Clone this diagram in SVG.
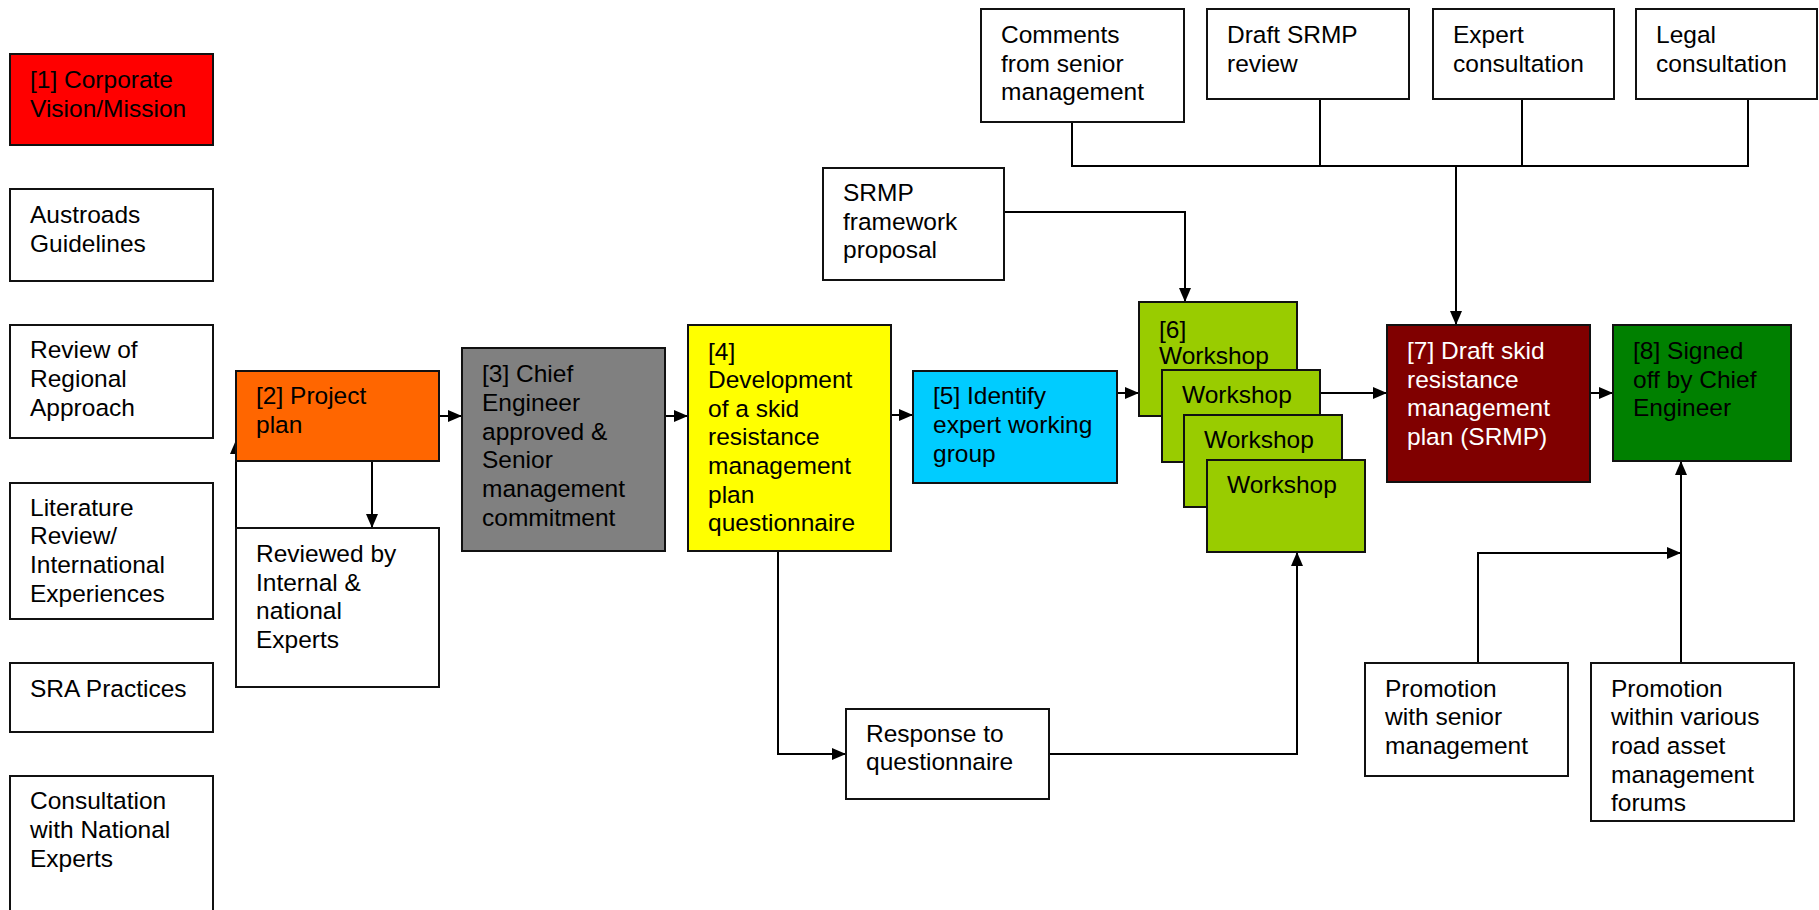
<svg xmlns="http://www.w3.org/2000/svg" width="1819" height="910" viewBox="0 0 1819 910">
<style>
  .box { stroke: #111; stroke-width: 2; }
  .w { fill: #ffffff; }
  text { font-family: "Liberation Sans", Arial, sans-serif; font-size: 24.5px; fill: #000; }
  .white { fill: #ffffff; }
  .conn { fill: none; stroke: #000; stroke-width: 2; }
</style>
<defs>
  <marker id="arr" viewBox="0 0 14 12" refX="14" refY="6" markerWidth="14" markerHeight="12" markerUnits="userSpaceOnUse" orient="auto">
    <path d="M0,0 L14,6 L0,12 Z" fill="#000"/>
  </marker>
</defs>
<rect width="1819" height="910" fill="#ffffff"/>

<g id="connectors">
  <line class="conn" x1="439" y1="416" x2="462" y2="416" marker-end="url(#arr)"/>
  <line class="conn" x1="665" y1="416" x2="688" y2="416" marker-end="url(#arr)"/>
  <line class="conn" x1="891" y1="415" x2="913" y2="415" marker-end="url(#arr)"/>
  <line class="conn" x1="1117" y1="393" x2="1139" y2="393" marker-end="url(#arr)"/>
  <line class="conn" x1="1320" y1="393" x2="1387" y2="393" marker-end="url(#arr)"/>
  <line class="conn" x1="1590" y1="393" x2="1613" y2="393" marker-end="url(#arr)"/>
  <line class="conn" x1="372" y1="461" x2="372" y2="528" marker-end="url(#arr)"/>
  <line class="conn" x1="236" y1="528" x2="236" y2="440" marker-end="url(#arr)"/>
  <polyline class="conn" points="778,551 778,754 846,754" marker-end="url(#arr)"/>
  <polyline class="conn" points="1049,754 1297,754 1297,552" marker-end="url(#arr)"/>
  <polyline class="conn" points="1004,212 1185,212 1185,302" marker-end="url(#arr)"/>
  <line class="conn" x1="1072" y1="122" x2="1072" y2="166"/>
  <line class="conn" x1="1320" y1="99" x2="1320" y2="166"/>
  <line class="conn" x1="1522" y1="99" x2="1522" y2="166"/>
  <line class="conn" x1="1748" y1="99" x2="1748" y2="166"/>
  <line class="conn" x1="1071" y1="166" x2="1749" y2="166"/>
  <line class="conn" x1="1456" y1="166" x2="1456" y2="325" marker-end="url(#arr)"/>
  <line class="conn" x1="1681" y1="663" x2="1681" y2="461" marker-end="url(#arr)"/>
  <polyline class="conn" points="1478,663 1478,553 1681,553" marker-end="url(#arr)"/>
</g>

<g id="n1">
  <rect class="box" x="10" y="54" width="203" height="91" fill="#ff0000"/>
  <text x="30" y="88">[1] Corporate</text>
  <text x="30" y="117">Vision/Mission</text>
</g>
<g id="austroads">
  <rect class="box w" x="10" y="189" width="203" height="92"/>
  <text x="30" y="223">Austroads</text>
  <text x="30" y="252">Guidelines</text>
</g>
<g id="regional">
  <rect class="box w" x="10" y="325" width="203" height="113"/>
  <text x="30" y="358">Review of</text>
  <text x="30" y="387">Regional</text>
  <text x="30" y="416">Approach</text>
</g>
<g id="literature">
  <rect class="box w" x="10" y="483" width="203" height="136"/>
  <text x="30" y="516">Literature</text>
  <text x="30" y="544">Review/</text>
  <text x="30" y="573">International</text>
  <text x="30" y="602">Experiences</text>
</g>
<g id="sra">
  <rect class="box w" x="10" y="663" width="203" height="69"/>
  <text x="30" y="697">SRA Practices</text>
</g>
<g id="consultation">
  <rect class="box w" x="10" y="776" width="203" height="150"/>
  <text x="30" y="809">Consultation</text>
  <text x="30" y="838">with National</text>
  <text x="30" y="867">Experts</text>
</g>

<g id="n2">
  <rect class="box" x="236" y="371" width="203" height="90" fill="#ff6600"/>
  <text x="256" y="404">[2] Project</text>
  <text x="256" y="433">plan</text>
</g>
<g id="reviewed">
  <rect class="box w" x="236" y="528" width="203" height="159"/>
  <text x="256" y="562">Reviewed by</text>
  <text x="256" y="591">Internal &amp;</text>
  <text x="256" y="619">national</text>
  <text x="256" y="648">Experts</text>
</g>

<g id="n3">
  <rect class="box" x="462" y="348" width="203" height="203" fill="#808080"/>
  <text x="482" y="382">[3] Chief</text>
  <text x="482" y="411">Engineer</text>
  <text x="482" y="440">approved &amp;</text>
  <text x="482" y="468">Senior</text>
  <text x="482" y="497">management</text>
  <text x="482" y="526">commitment</text>
</g>

<g id="n4">
  <rect class="box" x="688" y="325" width="203" height="226" fill="#ffff00"/>
  <text x="708" y="360">[4]</text>
  <text x="708" y="388">Development</text>
  <text x="708" y="417">of a skid</text>
  <text x="708" y="445">resistance</text>
  <text x="708" y="474">management</text>
  <text x="708" y="503">plan</text>
  <text x="708" y="531">questionnaire</text>
</g>

<g id="n5">
  <rect class="box" x="913" y="371" width="204" height="112" fill="#00ccff"/>
  <text x="933" y="404">[5] Identify</text>
  <text x="933" y="433">expert working</text>
  <text x="933" y="462">group</text>
</g>

<g id="srmp-framework">
  <rect class="box w" x="823" y="168" width="181" height="112"/>
  <text x="843" y="201">SRMP</text>
  <text x="843" y="230">framework</text>
  <text x="843" y="258">proposal</text>
</g>

<g id="n6">
  <rect class="box" x="1139" y="302" width="158" height="114" fill="#99cc00"/>
  <text x="1159" y="338">[6]</text>
  <text x="1159" y="364">Workshop</text>
</g>
<g id="workshop2">
  <rect class="box" x="1162" y="370" width="158" height="92" fill="#99cc00"/>
  <text x="1182" y="403">Workshop</text>
</g>
<g id="workshop3">
  <rect class="box" x="1184" y="415" width="158" height="92" fill="#99cc00"/>
  <text x="1204" y="448">Workshop</text>
</g>
<g id="workshop4">
  <rect class="box" x="1207" y="460" width="158" height="92" fill="#99cc00"/>
  <text x="1227" y="493">Workshop</text>
</g>

<g id="response">
  <rect class="box w" x="846" y="709" width="203" height="90"/>
  <text x="866" y="742">Response to</text>
  <text x="866" y="770">questionnaire</text>
</g>

<g id="comments">
  <rect class="box w" x="981" y="9" width="203" height="113"/>
  <text x="1001" y="43">Comments</text>
  <text x="1001" y="72">from senior</text>
  <text x="1001" y="100">management</text>
</g>
<g id="draft-review">
  <rect class="box w" x="1207" y="9" width="202" height="90"/>
  <text x="1227" y="43">Draft SRMP</text>
  <text x="1227" y="72">review</text>
</g>
<g id="expert">
  <rect class="box w" x="1433" y="9" width="181" height="90"/>
  <text x="1453" y="43">Expert</text>
  <text x="1453" y="72">consultation</text>
</g>
<g id="legal">
  <rect class="box w" x="1636" y="9" width="181" height="90"/>
  <text x="1656" y="43">Legal</text>
  <text x="1656" y="72">consultation</text>
</g>

<g id="n7">
  <rect class="box" x="1387" y="325" width="203" height="157" fill="#800000"/>
  <text class="white" x="1407" y="359">[7] Draft skid</text>
  <text class="white" x="1407" y="388">resistance</text>
  <text class="white" x="1407" y="416">management</text>
  <text class="white" x="1407" y="445">plan (SRMP)</text>
</g>
<g id="n8">
  <rect class="box" x="1613" y="325" width="178" height="136" fill="#008000"/>
  <text x="1633" y="359">[8] Signed</text>
  <text x="1633" y="388">off by Chief</text>
  <text x="1633" y="416">Engineer</text>
</g>

<g id="promo-senior">
  <rect class="box w" x="1365" y="663" width="203" height="113"/>
  <text x="1385" y="697">Promotion</text>
  <text x="1385" y="725">with senior</text>
  <text x="1385" y="754">management</text>
</g>
<g id="promo-forums">
  <rect class="box w" x="1591" y="663" width="203" height="158"/>
  <text x="1611" y="697">Promotion</text>
  <text x="1611" y="725">within various</text>
  <text x="1611" y="754">road asset</text>
  <text x="1611" y="783">management</text>
  <text x="1611" y="811">forums</text>
</g>
</svg>
